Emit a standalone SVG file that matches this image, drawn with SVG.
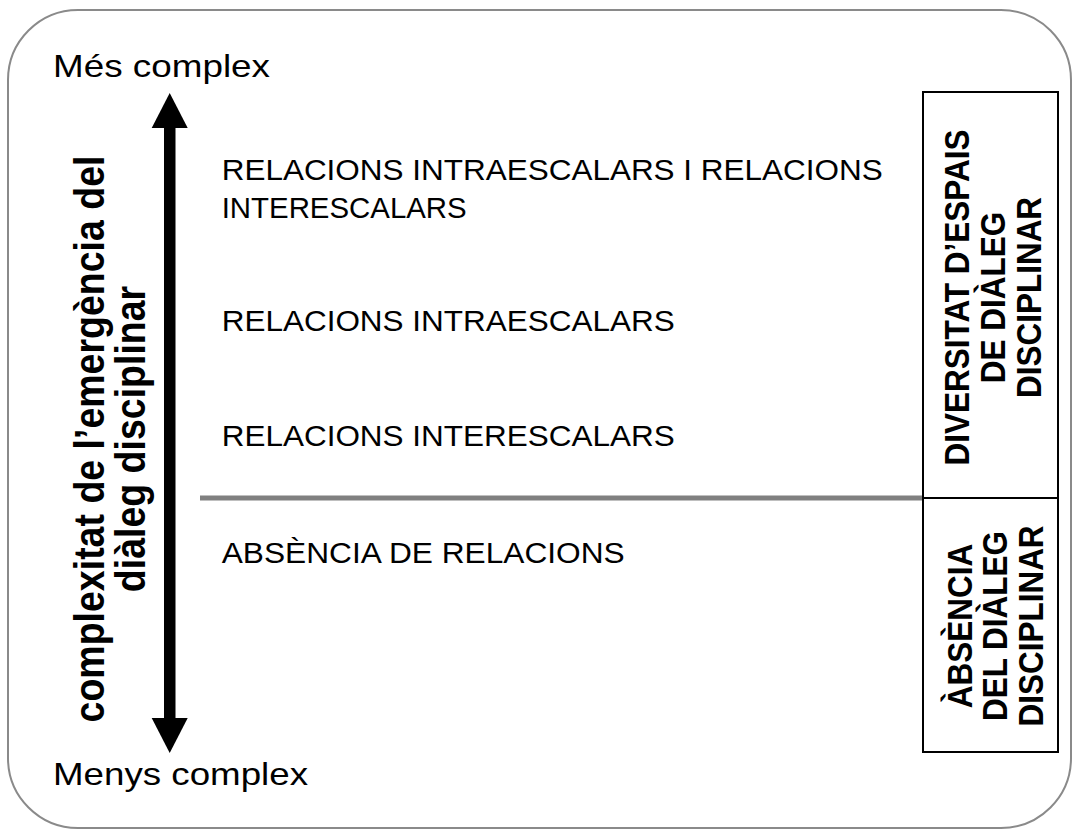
<svg xmlns="http://www.w3.org/2000/svg" width="1075" height="831" viewBox="0 0 1075 831">
  <style>
    .lbl { font-family: "Liberation Sans", Arial, sans-serif; fill: #000; }
    .big { font-size: 31.7px; }
    .body { font-size: 29px; }
    .side { font-size: 37.5px; font-weight: bold; text-anchor: middle; }
    .box-t { font-size: 31.5px; font-weight: bold; text-anchor: middle; }
    .box { fill: #fff; stroke: #000; stroke-width: 2; }
  </style>

  <!-- outer frame -->
  <rect id="frame" x="8" y="10" width="1063" height="818" rx="70" ry="70" fill="#fff" stroke="#8a8a8a" stroke-width="2"/>

  <!-- axis ends -->
  <g id="top-label">
    <text class="lbl big" x="53" y="77" textLength="217" lengthAdjust="spacingAndGlyphs">Més complex</text>
  </g>
  <g id="bottom-label">
    <text class="lbl big" x="53" y="785" textLength="255" lengthAdjust="spacingAndGlyphs">Menys complex</text>
  </g>

  <!-- double-headed axis and level separator -->
  <g id="connectors">
    <rect x="164" y="125" width="11.5" height="596" fill="#000"/>
    <polygon points="169.7,93 151.7,128 187.7,128" fill="#000"/>
    <polygon points="169.7,753 151.7,718 187.7,718" fill="#000"/>
    <line x1="200" y1="498" x2="1058" y2="498" stroke="#808080" stroke-width="5"/>
  </g>

  <!-- axis caption -->
  <g id="axis-caption">
    <text class="lbl side" transform="translate(104,439) scale(1.15,1) rotate(-90)">complexitat de l’emergència del</text>
    <text class="lbl side" transform="translate(145,439) scale(1.15,1) rotate(-90)">diàleg disciplinar</text>
  </g>

  <!-- levels -->
  <g id="level-both">
    <text class="lbl body" x="221.7" y="179.5" textLength="661" lengthAdjust="spacingAndGlyphs">RELACIONS INTRAESCALARS I RELACIONS</text>
    <text class="lbl body" x="221.7" y="217.5" textLength="245" lengthAdjust="spacingAndGlyphs">INTERESCALARS</text>
  </g>
  <g id="level-intra">
    <text class="lbl body" x="221.7" y="331" textLength="453" lengthAdjust="spacingAndGlyphs">RELACIONS INTRAESCALARS</text>
  </g>
  <g id="level-inter">
    <text class="lbl body" x="221.7" y="446" textLength="453" lengthAdjust="spacingAndGlyphs">RELACIONS INTERESCALARS</text>
  </g>
  <g id="level-none">
    <text class="lbl body" x="221.7" y="562.5" textLength="403" lengthAdjust="spacingAndGlyphs">ABSÈNCIA DE RELACIONS</text>
  </g>

  <!-- right-hand category boxes -->
  <g id="box-diversity">
    <rect class="box" x="923" y="92" width="135" height="406"/>
    <text class="lbl box-t" transform="translate(969,297.5) scale(1.12,1) rotate(-90)">DIVERSITAT D’ESPAIS</text>
    <text class="lbl box-t" transform="translate(1005,297.5) scale(1.12,1) rotate(-90)">DE DIÀLEG</text>
    <text class="lbl box-t" transform="translate(1041,297.5) scale(1.12,1) rotate(-90)">DISCIPLINAR</text>
  </g>
  <g id="box-absence">
    <rect class="box" x="923" y="498" width="135" height="254"/>
    <text class="lbl box-t" transform="translate(972,626) scale(1.12,1) rotate(-90)">ÀBSÈNCIA</text>
    <text class="lbl box-t" transform="translate(1007,626) scale(1.12,1) rotate(-90)">DEL DIÀLEG</text>
    <text class="lbl box-t" transform="translate(1043,626) scale(1.12,1) rotate(-90)">DISCIPLINAR</text>
  </g>
</svg>
